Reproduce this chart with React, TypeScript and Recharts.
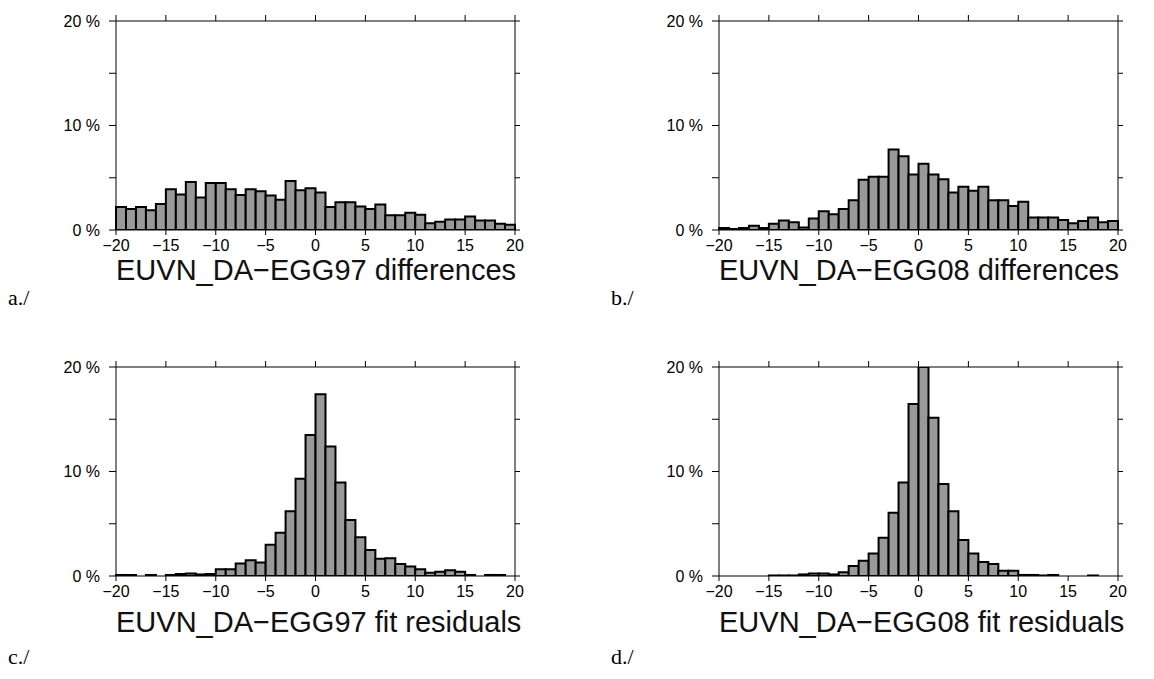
import { BarChart, Bar, XAxis, YAxis } from 'recharts';

// lower edge of each 1-unit bin
const binStarts = [
  -20, -19, -18, -17, -16, -15, -14, -13, -12, -11,
  -10, -9, -8, -7, -6, -5, -4, -3, -2, -1,
  0, 1, 2, 3, 4, 5, 6, 7, 8, 9,
  10, 11, 12, 13, 14, 15, 16, 17, 18, 19,
];
const xTicks = [-20, -15, -10, -5, 0, 5, 10, 15, 20];
const yTicks = [0, 5, 10, 15, 20];
const yLabelled = [0, 10, 20];

// percent of points per bin
const egg97Differences = [
  2.2, 2.0, 2.2, 1.9, 2.5, 3.9, 3.4, 4.6, 3.1, 4.5,
  4.5, 3.9, 3.35, 3.9, 3.7, 3.3, 2.9, 4.7, 3.8, 4.0,
  3.6, 2.2, 2.65, 2.65, 2.25, 2.0, 2.45, 1.4, 1.4, 1.65,
  1.45, 0.65, 0.8, 1.0, 1.0, 1.3, 0.9, 0.9, 0.6, 0.5,
];
const egg08Differences = [
  0.2, 0.1, 0.2, 0.4, 0.2, 0.6, 0.9, 0.75, 0.25, 1.1,
  1.8, 1.5, 2.0, 2.85, 4.8, 5.1, 5.1, 7.7, 7.05, 5.3,
  6.35, 5.3, 4.85, 3.6, 4.15, 3.75, 4.15, 2.85, 2.85, 2.3,
  2.7, 1.2, 1.2, 1.2, 0.95, 0.65, 0.85, 1.2, 0.75, 0.85,
];
const egg97Residuals = [
  0.1, 0.1, 0, 0.1, 0, 0.1, 0.2, 0.25, 0.15, 0.2,
  0.65, 0.65, 1.2, 1.5, 1.3, 3.0, 4.15, 6.2, 9.3, 13.5,
  17.4, 12.4, 8.95, 5.35, 3.7, 2.5, 1.65, 1.7, 1.15, 0.9,
  0.65, 0.3, 0.4, 0.55, 0.4, 0.1, 0, 0.1, 0.1, 0,
];
const egg08Residuals = [
  0, 0, 0, 0, 0, 0.05, 0.05, 0.05, 0.15, 0.25,
  0.25, 0.15, 0.35, 0.95, 1.45, 2.15, 3.65, 6.05, 8.95, 16.45,
  20, 15.15, 8.8, 6.2, 3.45, 2.15, 1.35, 1.15, 0.5, 0.5,
  0.1, 0.1, 0.05, 0.1, 0, 0, 0, 0.05, 0, 0,
];

const panels = [
  { title: 'EUVN_DA\u2212EGG97 differences', tag: 'a./', values: egg97Differences, left: 0, top: 0, titleY: 270, tagY: 298 },
  { title: 'EUVN_DA\u2212EGG08 differences', tag: 'b./', values: egg08Differences, left: 603, top: 0, titleY: 270, tagY: 298 },
  { title: 'EUVN_DA\u2212EGG97 fit residuals', tag: 'c./', values: egg97Residuals, left: 0, top: 346, titleY: 622, tagY: 657 },
  { title: 'EUVN_DA\u2212EGG08 fit residuals', tag: 'd./', values: egg08Residuals, left: 603, top: 346, titleY: 622, tagY: 657 },
];

const sans = '"Liberation Sans", Arial, Helvetica, sans-serif';
const tickStyle = { fill: '#000', fontSize: 16, fontFamily: sans };
const formatX = (v: number) => (v < 0 ? `\u2212${-v}` : `${v}`);
const formatY = (v: number) => (yLabelled.includes(v) ? `${v} %` : '');
const blank = () => '';

function Histogram({ values }: { values: number[] }) {
  // mid = bin centre, used only so the numeric edge axes have a data key
  const data = binStarts.map((b, i) => ({ bin: b, mid: b + 0.5, pct: values[i] }));
  return (
    <BarChart
      width={560}
      height={330}
      data={data}
      barCategoryGap={0}
      barGap={0}
      margin={{ top: 11, right: 35, bottom: 70, left: 56 }}
    >
      <XAxis
        xAxisId="num"
        dataKey="mid"
        type="number"
        domain={[-20, 20]}
        ticks={xTicks}
        interval={0}
        allowDataOverflow
        height={30}
        tickSize={5}
        tickMargin={5}
        stroke="#000"
        tick={tickStyle}
        tickFormatter={formatX}
      />
      <XAxis xAxisId="cat" dataKey="bin" type="category" height={0} hide />
      <XAxis
        xAxisId="top"
        dataKey="mid"
        orientation="top"
        type="number"
        domain={[-20, 20]}
        ticks={xTicks}
        interval={0}
        allowDataOverflow
        height={10}
        tickSize={6}
        stroke="#000"
        tickFormatter={blank}
      />
      <YAxis
        yAxisId="left"
        domain={[0, 20]}
        ticks={yTicks}
        interval={0}
        allowDataOverflow
        width={60}
        tickSize={7}
        tickMargin={9}
        stroke="#000"
        tick={tickStyle}
        tickFormatter={formatY}
      />
      <YAxis
        yAxisId="right"
        orientation="right"
        domain={[0, 20]}
        ticks={yTicks}
        interval={0}
        allowDataOverflow
        width={10}
        tickSize={5}
        stroke="#000"
        tickFormatter={blank}
      />
      <Bar
        xAxisId="cat"
        yAxisId="left"
        dataKey="pct"
        fill="#999999"
        stroke="#000"
        strokeWidth={2}
        isAnimationActive={false}
      />
    </BarChart>
  );
}

export default function App() {
  return (
    <div style={{ position: 'absolute', left: 0, top: 0, width: 1154, height: 679, background: '#fff', overflow: 'hidden' }}>
      {panels.map((p) => (
        <div key={p.tag}>
          <div style={{ position: 'absolute', left: p.left, top: p.top }}>
            <Histogram values={p.values} />
          </div>
          <div
            style={{
              position: 'absolute',
              left: p.left + 116,
              width: 399,
              top: p.titleY - 17,
              height: 34,
              lineHeight: '34px',
              textAlign: 'center',
              whiteSpace: 'nowrap',
              fontFamily: sans,
              fontSize: 29,
              color: '#111',
            }}
          >
            {p.title}
          </div>
          <div
            style={{
              position: 'absolute',
              left: p.left + 8,
              top: p.tagY - 13,
              height: 26,
              lineHeight: '26px',
              fontFamily: '"Liberation Serif", "Times New Roman", serif',
              fontSize: 22,
              color: '#000',
            }}
          >
            {p.tag}
          </div>
        </div>
      ))}
    </div>
  );
}
